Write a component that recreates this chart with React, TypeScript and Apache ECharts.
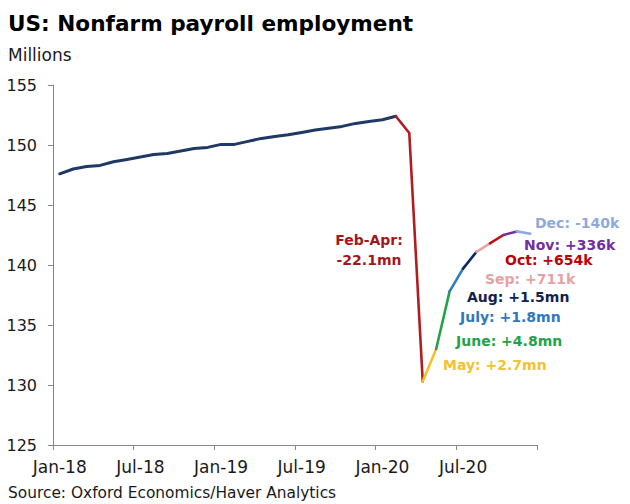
import React, { useEffect, useRef } from "react";
import * as echarts from "echarts";

const categories = [
  "Jan-18", "Feb-18", "Mar-18", "Apr-18", "May-18", "Jun-18", "Jul-18", "Aug-18", "Sep-18", "Oct-18", "Nov-18", "Dec-18",
  "Jan-19", "Feb-19", "Mar-19", "Apr-19", "May-19", "Jun-19", "Jul-19", "Aug-19", "Sep-19", "Oct-19", "Nov-19", "Dec-19",
  "Jan-20", "Feb-20", "Mar-20", "Apr-20", "May-20", "Jun-20", "Jul-20", "Aug-20", "Sep-20", "Oct-20", "Nov-20", "Dec-20",
];

const employment = [
  147.6, 148.0, 148.2, 148.3, 148.6, 148.8, 149.0, 149.2, 149.3, 149.5, 149.7, 149.8,
  150.05, 150.05, 150.3, 150.55, 150.7, 150.85, 151.05, 151.25, 151.4, 151.55, 151.8, 151.95,
  152.1, 152.4, 151.0, 130.3, 133.0, 137.8, 139.7, 141.1, 141.8, 142.5, 142.8, 142.6,
];

// segment boundaries (indexes into categories) and their colours
const segmentBreaks = [0, 25, 27, 28, 29, 30, 31, 32, 33, 34, 35];
const segmentColors = [
  "#1f3864", "#b01c1f", "#f5c02c", "#22a347", "#2e7cc0",
  "#0c2a5e", "#e8a4a4", "#c40d0d", "#7030a0", "#8eaadc",
];

const annotationTexts = [
  "Feb-Apr:", "-22.1mn", "May: +2.7mn", "June: +4.8mn", "July: +1.8mn",
  "Aug: +1.5mn", "Sep: +711k", "Oct: +654k", "Nov: +336k", "Dec: -140k",
];
const annotationColors = [
  "#a3171c", "#a3171c", "#f2c230", "#1fa34a", "#2e78bf",
  "#12224f", "#e6a2a2", "#c00000", "#7030a0", "#8eaadb",
];

const yTicks = [125, 130, 135, 140, 145, 150, 155];

const FONT = "DejaVu Sans";

export default function App() {
  const ref = useRef<HTMLDivElement>(null);

  useEffect(() => {
    if (!ref.current) return;
    const chart = echarts.init(ref.current, null, { renderer: "svg" });

    const series = segmentColors.map((color, s) => {
      const start = segmentBreaks[s];
      const end = segmentBreaks[s + 1];
      const data = employment.map((v, i) => (i >= start && i <= end ? v : null));
      return {
        type: "line",
        data,
        showSymbol: false,
        symbol: "none",
        connectNulls: false,
        lineStyle: { color, width: s === 0 ? 3 : 2.6, cap: "round", join: "round" },
        z: 2 + s,
      };
    });

    // annotation layout (pixel positions)
    const annPos: Array<[number, number, string]> = [
      [369, 240, "center"],
      [369, 260, "center"],
      [443, 365, "left"],
      [456, 341, "left"],
      [460, 317, "left"],
      [467, 297, "left"],
      [485, 279, "left"],
      [505, 260, "left"],
      [524, 245, "left"],
      [535, 223, "left"],
    ];

    const annotations = annotationTexts.map((t, i) => ({
      type: "text",
      x: annPos[i][0],
      y: annPos[i][1],
      style: {
        text: t,
        fill: annotationColors[i],
        font: `bold 14px "${FONT}"`,
        textAlign: annPos[i][2],
        textVerticalAlign: "middle",
      },
      z: 100,
    }));

    chart.setOption({
      animation: false,
      backgroundColor: "#ffffff",
      grid: { left: 53, right: 93, top: 85, bottom: 59, containLabel: false },
      xAxis: {
        type: "category",
        data: categories,
        boundaryGap: true,
        axisLine: { lineStyle: { color: "#868686", width: 1 } },
        axisTick: { show: true, interval: 5, length: 5, lineStyle: { color: "#868686" } },
        axisLabel: {
          interval: 5,
          color: "#1a1a1a",
          fontFamily: FONT,
          fontSize: 17,
          margin: 13,
        },
        splitLine: { show: false },
      },
      yAxis: {
        type: "value",
        min: yTicks[0],
        max: yTicks[yTicks.length - 1],
        interval: 5,
        axisLine: { show: true, lineStyle: { color: "#868686", width: 1 } },
        axisTick: { show: true, length: 5, lineStyle: { color: "#868686" } },
        axisLabel: { color: "#1a1a1a", fontFamily: FONT, fontSize: 16, margin: 16 },
        splitLine: { show: false },
      },
      series,
      graphic: [
        {
          type: "text",
          x: 8,
          y: 23,
          style: {
            text: "US: Nonfarm payroll employment",
            fill: "#000000",
            font: `bold 21.6px "${FONT}"`,
            textVerticalAlign: "middle",
          },
        },
        {
          type: "text",
          x: 8,
          y: 55,
          style: {
            text: "Millions",
            fill: "#1a1a1a",
            font: `17px "${FONT}"`,
            textVerticalAlign: "middle",
          },
        },
        {
          type: "text",
          x: 8,
          y: 493,
          style: {
            text: "Source: Oxford Economics/Haver Analytics",
            fill: "#1a1a1a",
            font: `15.4px "${FONT}"`,
            textVerticalAlign: "middle",
          },
        },
        ...annotations,
      ],
    });

    return () => chart.dispose();
  }, []);

  return (
    <div style={{ position: "fixed", left: 0, top: 0, width: 630, height: 504, background: "#fff" }}>
      <div ref={ref} style={{ width: 630, height: 504 }} />
    </div>
  );
}
